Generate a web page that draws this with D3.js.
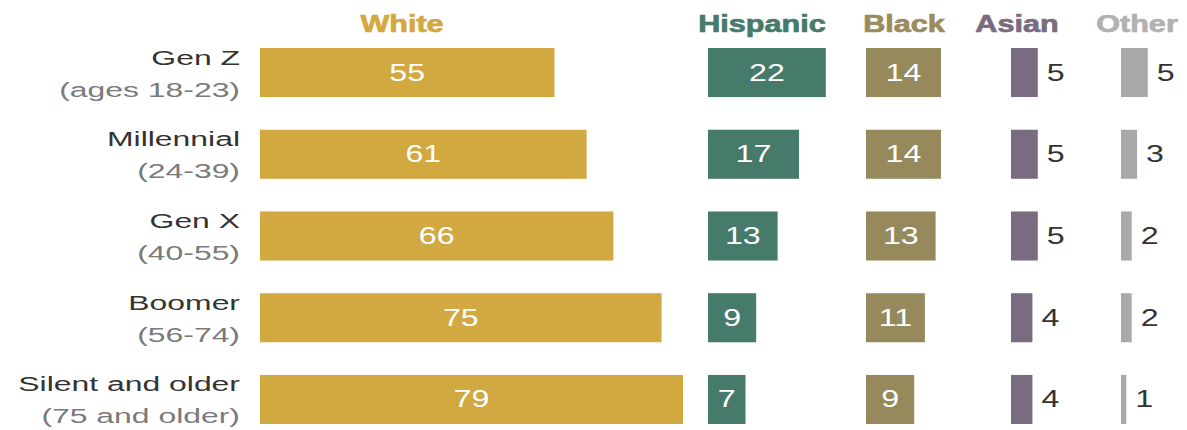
<!DOCTYPE html>
<html>
<head>
<meta charset="utf-8"/>
<title>Generations by race and ethnicity</title>
<script src="https://cdn.jsdelivr.net/npm/d3@7"></script>
<style>
  body { margin: 0; background: #fff; }
  svg text { font-family: "Liberation Sans", Arial, sans-serif; }
</style>
</head>
<body>
<div id="chart"></div>
<script>
// data
var generations = ["Gen Z", "Millennial", "Gen X", "Boomer", "Silent and older"];
var ageRanges = ["(ages 18-23)", "(24-39)", "(40-55)", "(56-74)", "(75 and older)"];
var groups = ["White", "Hispanic", "Black", "Asian", "Other"];
var white = [55, 61, 66, 75, 79];
var hispanic = [22, 17, 13, 9, 7];
var black = [14, 14, 13, 11, 9];
var asian = [5, 5, 5, 4, 4];
var other = [5, 3, 2, 2, 1];

var series = [white, hispanic, black, asian, other];

// layout
var width = 1187, height = 430;
var colStart = [260, 708, 866, 1011, 1121];   // left edge of each column's bars
var headCenter = [402, 762, 904, 1017, 1137]; // header text centre
var barColor = ["#d2a840", "#467a6b", "#968a5d", "#7a6c80", "#a9a9ab"];
var headColor = ["#d4a83e", "#467a6b", "#9a8c5c", "#7a6c80", "#b1b1b3"];
var stretch = 1.52; // the reference text is set wide

var svg = d3.select("#chart").append("svg")
  .attr("width", width).attr("height", height);

var y = d3.scaleBand().domain(generations).range([48, 424]).paddingInner(0.4).paddingOuter(0);
var x = d3.scaleLinear().domain([0, 79]).range([0, 423]);

function wideText(sel, sx) {
  return sel.attr("transform", function(d) {
    return "translate(" + d.tx + "," + d.ty + ") scale(" + sx + ",1)";
  });
}

// headers
var heads = groups.map(function(g, i) { return {t: g, tx: headCenter[i], ty: 32, c: headColor[i]}; });
wideText(svg.selectAll("text.head").data(heads).join("text").attr("class", "head"), 1.33)
  .attr("text-anchor", "middle")
  .attr("font-size", 23)
  .attr("font-weight", "bold")
  .attr("fill", function(d) { return d.c; })
  .attr("stroke", function(d) { return d.c; })
  .attr("stroke-width", 0.7)
  .text(function(d) { return d.t; });

// row labels
var rowLab = generations.map(function(g, i) {
  return {t: g, sub: ageRanges[i], cy: y(g) + y.bandwidth() / 2};
});
wideText(svg.selectAll("text.gen").data(rowLab.map(function(d) { return {t: d.t, tx: 240, ty: d.cy - 8}; }))
  .join("text").attr("class", "gen"), stretch)
  .attr("text-anchor", "end").attr("font-size", 21).attr("fill", "#333")
  .text(function(d) { return d.t; });
wideText(svg.selectAll("text.age").data(rowLab.map(function(d) { return {t: d.sub, tx: 240, ty: d.cy + 24}; }))
  .join("text").attr("class", "age"), stretch)
  .attr("text-anchor", "end").attr("font-size", 21).attr("fill", "#7a7a7a")
  .text(function(d) { return d.t; });

// bars and values
series.forEach(function(vals, k) {
  var g = svg.append("g").attr("transform", "translate(" + colStart[k] + ",0)");
  g.selectAll("rect").data(vals).join("rect")
    .attr("x", 0)
    .attr("y", function(d, i) { return y(generations[i]); })
    .attr("width", function(d) { return x(d); })
    .attr("height", y.bandwidth())
    .attr("fill", barColor[k]);

  var labs = vals.map(function(v, i) {
    var inside = v >= 7;
    return {
      t: v, inside: inside,
      tx: inside ? x(v) / 2 : x(v) + 9,
      ty: y(generations[i]) + y.bandwidth() / 2 + 8
    };
  });
  wideText(g.selectAll("text").data(labs).join("text"), 1.4)
    .attr("text-anchor", function(d) { return d.inside ? "middle" : "start"; })
    .attr("font-size", 23)
    .attr("fill", function(d) { return d.inside ? "#fff" : "#333"; })
    .text(function(d) { return d.t; });
});
</script>
</body>
</html>
